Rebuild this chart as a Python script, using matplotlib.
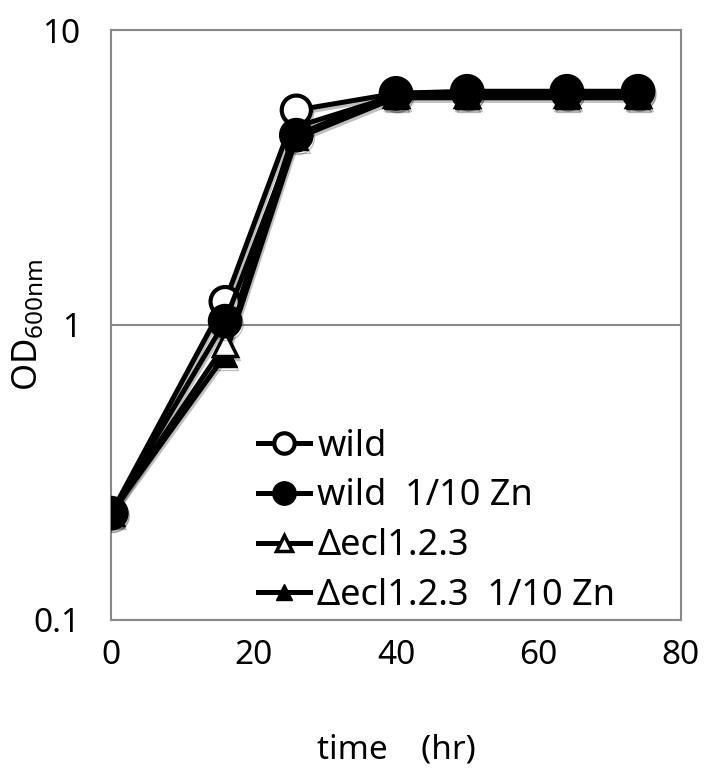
import matplotlib.pyplot as plt
import matplotlib.patheffects as pe
import numpy as np

plt.rcParams['font.family'] = ['Noto Sans', 'Noto Sans CJK JP']

# growth data
time = [0, 16, 26, 40, 50, 64, 74]
wild = [0.23, 1.2, 5.35, 6.1, 6.15, 6.15, 6.15]
wild_zn = [0.23, 1.03, 4.4, 6.1, 6.2, 6.2, 6.2]
ecl = [0.23, 0.86, 4.7, 6.0, 6.0, 6.0, 6.0]
ecl_zn = [0.23, 0.79, 4.3, 5.9, 5.9, 5.9, 5.9]
labels = ['wild', 'wild  1/10 Zn', '\u0394ecl1.2.3', '\u0394ecl1.2.3  1/10 Zn']

fig = plt.figure(figsize=(7.04, 7.7), dpi=100)
ax = fig.add_axes([0.158, 0.195, 0.809, 0.766])

shadow = [pe.SimpleLineShadow(offset=(1, -2), alpha=0.25, shadow_color='black'), pe.Normal()]

ax.plot(time, ecl_zn, color='black', lw=3.6, marker='^', ms=17,
        mfc='black', mec='black', label=labels[3], zorder=3, path_effects=shadow)
ax.plot(time, ecl, color='black', lw=3.6, marker='^', ms=17,
        mfc='white', mec='black', mew=2.5, label=labels[2], zorder=3, path_effects=shadow)
ax.plot(time, wild, color='black', lw=3.6, marker='o', ms=21,
        mfc='white', mec='black', mew=3, label=labels[0], zorder=4, path_effects=shadow)
ax.plot(time, wild_zn, color='black', lw=3.6, marker='o', ms=24,
        mfc='black', mec='black', label=labels[1], zorder=5, path_effects=shadow)

ax.set_yscale('log')
ax.set_ylim(0.1, 10)
ax.set_xlim(0, 80)
ax.set_xticks([0, 20, 40, 60, 80])
ax.set_yticks([0.1, 1, 10])
ax.set_yticklabels(['0.1', '1', '10'])
ax.minorticks_off()
ax.yaxis.grid(True, color='#888888', lw=1.5)
ax.tick_params(length=0, labelsize=24)
ax.tick_params(axis='x', pad=14)
ax.tick_params(axis='y', pad=22)
for s in ax.spines.values():
    s.set_color('#888888')
    s.set_linewidth(1.5)

ax.set_xlabel('time\u3000(hr)', fontsize=24, labelpad=44)
ax.set_ylabel('OD$_{\\mathregular{600nm}}$', fontsize=25)
ax.yaxis.set_label_coords(-0.116, 0.5)

h, l = ax.get_legend_handles_labels()
order = [2, 3, 1, 0]
leg = ax.legend([h[i] for i in order], [l[i] for i in order], loc='lower left',
                bbox_to_anchor=(0.2, -0.045), frameon=False, fontsize=26,
                handlelength=1.45, handletextpad=0.2, labelspacing=0.38,
                markerscale=0.7)
for line in leg.get_lines():
    line.set_path_effects([])

fig.savefig('out.png', dpi=100)
